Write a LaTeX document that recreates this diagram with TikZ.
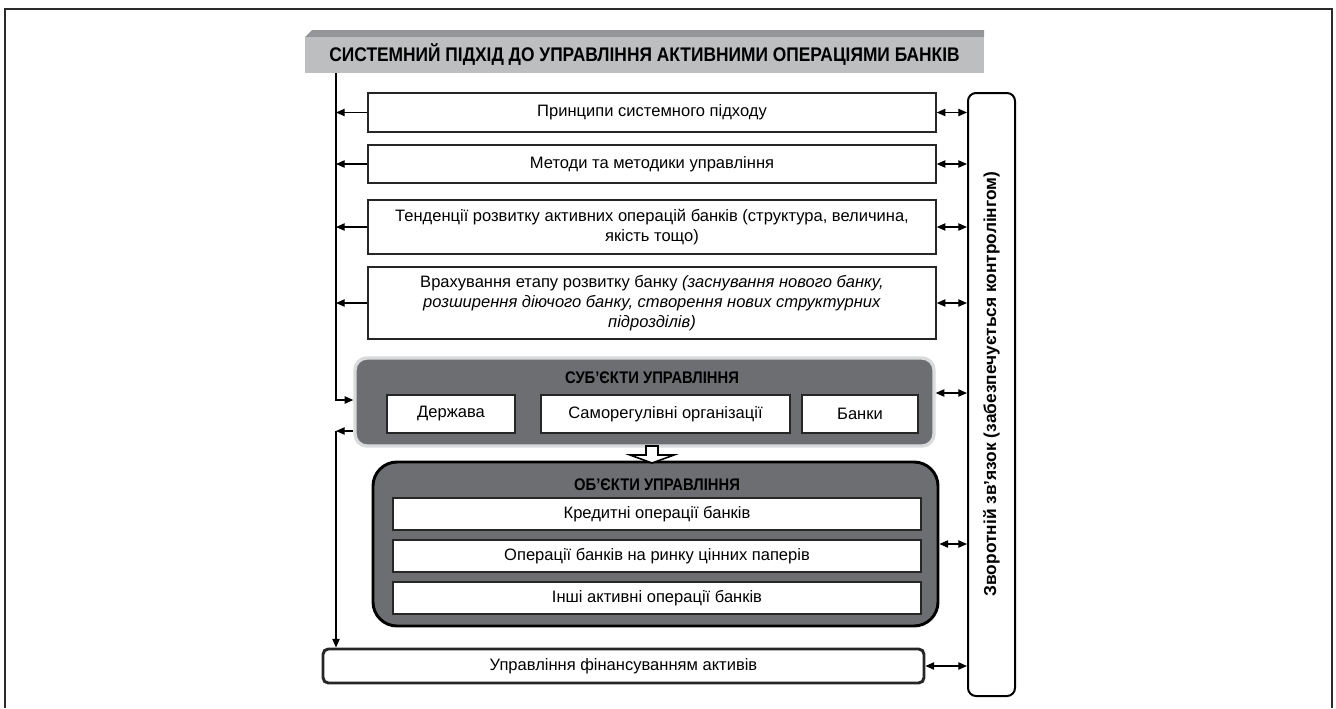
\documentclass[tikz,border=0pt]{standalone}
\usepackage{fontspec}
\setmainfont{Liberation Sans}
\newfontfamily\narrowfont[FakeStretch=0.88]{Liberation Sans}
\usetikzlibrary{arrows.meta,calc}
\definecolor{boxgray}{HTML}{6D6E71}
\definecolor{titlegray}{HTML}{BCBEC0}
\definecolor{bevelgray}{HTML}{939598}
\definecolor{glow}{HTML}{D9DADB}
\definecolor{framegray}{HTML}{2B2B2B}
\begin{document}
\begin{tikzpicture}[x=0.75pt,y=-0.75pt,
  font=\fontsize{12.4}{14.8}\selectfont,
  wbox/.style={draw=black!85, line width=1.1pt, fill=white, align=center, inner sep=0pt},
  tip/.tip={Triangle[length=6.5pt,width=5.5pt]},
  arr/.style={-tip, line width=0.9pt},
  darr/.style={tip-tip, line width=0.9pt},
  ttl/.style={font=\fontsize{12.6}{15}\selectfont\narrowfont\bfseries}]
\useasboundingbox (0,0) rectangle (1336,708);
% outer frame
\draw[framegray, line width=2.2pt] (5,708) -- (5,9) -- (1332,9) -- (1332,708);
% title
\fill[bevelgray] (305,37) -- (312,30) -- (984,30) -- (984,37) -- cycle;
\node[fill=titlegray, minimum width=679*0.75pt, minimum height=36*0.75pt, inner sep=0pt,
  font=\fontsize{14.8}{17}\selectfont\narrowfont\bfseries] (title) at (644.5,55)
  {СИСТЕМНИЙ ПІДХІД ДО УПРАВЛІННЯ АКТИВНИМИ ОПЕРАЦІЯМИ БАНКІВ};
% feedback box
\node[draw=black, line width=1.5pt, fill=white, rounded corners=6pt,
  minimum width=47*0.75pt, minimum height=603*0.75pt, inner sep=0pt] (fb) at (991.5,394.5) {};
\node[rotate=90, inner sep=0pt, font=\fontsize{13}{15}\selectfont\bfseries] (fbt) at (991.5,384)
  {Зворотній зв’язок (забезпечується контролінгом)};
% upper boxes
\node[wbox, minimum width=568*0.75pt, minimum height=39*0.75pt] (b1) at (652,112.5) {Принципи системного підходу};
\node[wbox, minimum width=568*0.75pt, minimum height=38*0.75pt] (b2) at (652,164) {Методи та методики управління};
\node[wbox, minimum width=568*0.75pt, minimum height=54*0.75pt] (b3) at (652,227)
  {Тенденції розвитку активних операцій банків (структура, величина,\\ якість тощо)};
\node[wbox, minimum width=568*0.75pt, minimum height=72*0.75pt] (b4) at (652,303)
  {Врахування етапу розвитку банку \textit{(заснування нового банку,}\\ \textit{розширення діючого банку, створення нових структурних}\\ \textit{підрозділів)}};
% subjects
\node[draw=glow, line width=2.5pt, fill=boxgray, rounded corners=9pt,
  minimum width=579*0.75pt, minimum height=88*0.75pt] (subj) at (644.5,402) {};
\node[ttl] (subjt) at (652,378) {СУБ’ЄКТИ УПРАВЛІННЯ};
\node[wbox, minimum width=128*0.75pt, minimum height=38*0.75pt] (s1) at (451,414) {Держава};
\node[wbox, minimum width=249*0.75pt, minimum height=38*0.75pt] (s2) at (665.5,414) {Саморегулівні організації};
\node[wbox, minimum width=116*0.75pt, minimum height=38*0.75pt] (s3) at (860,414) {Банки};
% objects
\node[draw=black, line width=2.2pt, fill=boxgray, rounded corners=18pt,
  minimum width=565*0.75pt, minimum height=164*0.75pt] (obj) at (655.5,544) {};
\node[ttl] (objt) at (657,485) {ОБ’ЄКТИ УПРАВЛІННЯ};
\node[wbox, minimum width=528*0.75pt, minimum height=32*0.75pt] (o1) at (657,514) {Кредитні операції банків};
\node[wbox, minimum width=528*0.75pt, minimum height=32*0.75pt] (o2) at (657,556) {Операції банків на ринку цінних паперів};
\node[wbox, minimum width=528*0.75pt, minimum height=32*0.75pt] (o3) at (657,598) {Інші активні операції банків};
% hollow arrow subjects -> objects
\draw[fill=white, line width=1.2pt] (646,446) -- (658,446) -- (658,455) -- (674,455) -- (652,463)
  -- (630,455) -- (646,455) -- cycle;
% bottom box
\node[wbox, line width=2.2pt, rounded corners=4pt, minimum width=601*0.75pt, minimum height=34*0.75pt]
  (fin) at (623.5,666) {Управління фінансуванням активів};
% left line
\coordinate (L1) at (336,73);
\coordinate (L2) at (336,400);
\coordinate (L3) at (336,431);
\draw[arr] (title.south -| L1) -- (L2) -- (subj.west |- L2);
\foreach \b in {b1,b2,b3,b4} \draw[arr] (\b.west) -- (\b.west -| L1);
\draw[arr] (subj.west |- L3) -- (L3);
\draw[arr] (L3) -- (fin.north -| L3);
% right double arrows
\foreach \b in {b1,b2,b3,b4,obj,fin} \draw[darr] (\b.east) -- (\b.east -| fb.west);
\draw[darr] ([yshift=6.75pt]subj.east) -- ([yshift=6.75pt]subj.east -| fb.west);
\end{tikzpicture}
\end{document}
